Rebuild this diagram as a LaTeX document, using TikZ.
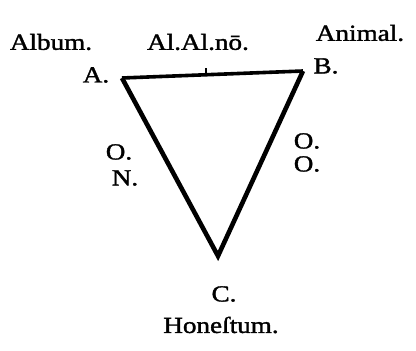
\documentclass[tikz,border=0pt]{standalone}
\usepackage{fontspec}
\setmainfont{Liberation Serif}[FakeStretch=1.18, FakeBold=1.5]
\begin{document}
\begin{tikzpicture}[x=1pt,y=-1pt,
  lbl/.style={font=\fontsize{23}{26}\selectfont, inner sep=0pt, anchor=center},
  side/.style={line width=4.6pt, line join=miter, line cap=butt}]
\useasboundingbox (0,0) rectangle (416,351);
\coordinate (A) at (122,78);
\coordinate (B) at (303,71);
\coordinate (C) at (218,256);
\coordinate (T) at (206,68);
\draw[side, line width=3.6pt] (A) -- (B);
\draw[side] (A) -- (C) -- (B);
\draw[line width=2.5pt] (T) -- ++(0,5);
\node[lbl] (album) at (51,42) {Album.};
\node[lbl] (alal) at (198,42) {Al.Al.nō.};
\node[lbl] (animal) at (360,33) {Animal.};
\node[lbl] (la) at (96,75) {A.};
\node[lbl] (lb) at (326,66) {B.};
\node[lbl] (o1) at (119,152) {O.};
\node[lbl] (n1) at (125,178) {N.};
\node[lbl] (o2) at (307,141) {O.};
\node[lbl] (o3) at (307,164) {O.};
\node[lbl] (lc) at (224,294) {C.};
\node[lbl] (hon) at (221,325) {Honeſtum.};
\end{tikzpicture}
\end{document}
